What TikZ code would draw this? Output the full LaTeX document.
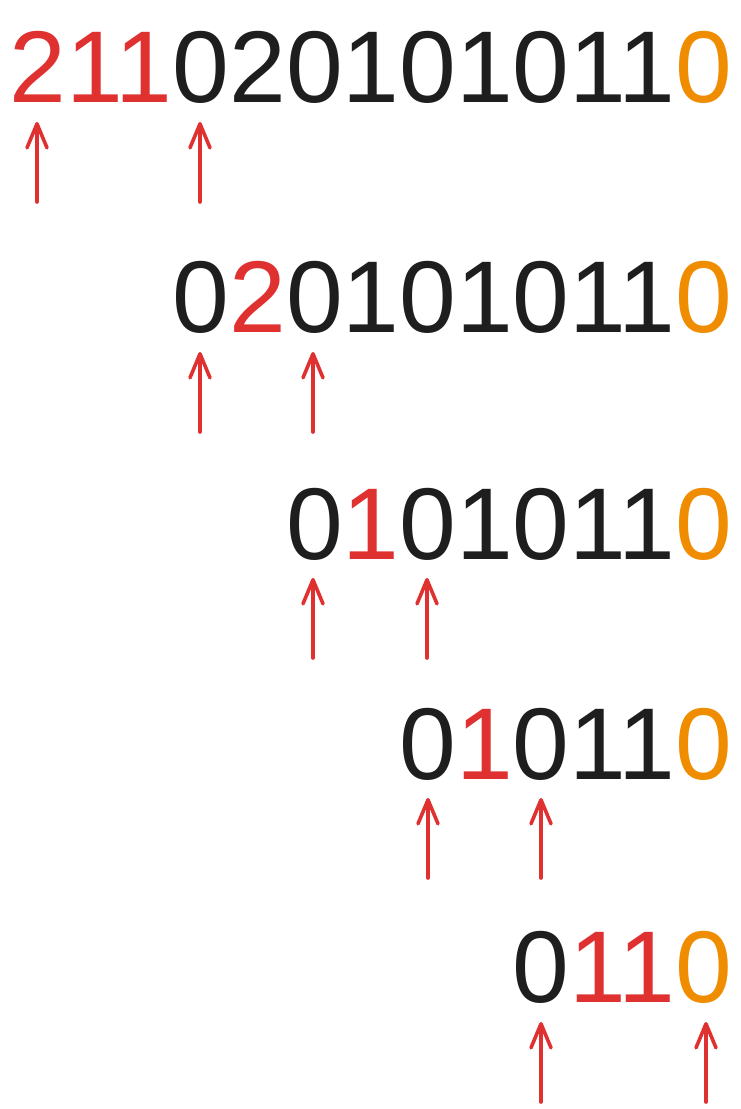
\documentclass[tikz,border=0pt]{standalone}
\usepackage{fontspec}
\setmainfont{Liberation Sans}
\usetikzlibrary{arrows.meta}
\definecolor{exred}{HTML}{E03131}
\definecolor{exorange}{HTML}{F08C00}
\definecolor{exblack}{HTML}{1E1E1E}

\begin{document}
\begin{tikzpicture}[x=1pt, y=1pt,
	digits/.style={anchor=base east, inner sep=0pt, text=exblack, font=\fontsize{102}{102}\selectfont},
	pointer/.style={draw=exred, line width=3.6pt, line cap=round, line join=round, -{Straight Barb[length=24pt, width=20pt, round]}}]
	\useasboundingbox (0,0) rectangle (741,1109);
	% Rows of digits:
	\node[digits] (row1) at (732.5, 1006) {\textcolor{exred}{211}020101011\textcolor{exorange}{0}};
	\node[digits] (row2) at (732.5, 776) {0\textcolor{exred}{2}0101011\textcolor{exorange}{0}};
	\node[digits] (row3) at (732.5, 549) {0\textcolor{exred}{1}01011\textcolor{exorange}{0}};
	\node[digits] (row4) at (732.5, 329) {0\textcolor{exred}{1}011\textcolor{exorange}{0}};
	\node[digits] (row5) at (732.5, 106) {0\textcolor{exred}{11}\textcolor{exorange}{0}};
	% Pointer ends:
	\coordinate (tail1a) at (37, 907);  \coordinate (tip1a) at (37, 987);
	\coordinate (tail1b) at (200, 907); \coordinate (tip1b) at (200, 987);
	\coordinate (tail2a) at (200, 677); \coordinate (tip2a) at (200, 757);
	\coordinate (tail2b) at (313, 677); \coordinate (tip2b) at (313, 757);
	\coordinate (tail3a) at (313, 451); \coordinate (tip3a) at (313, 531);
	\coordinate (tail3b) at (427, 451); \coordinate (tip3b) at (427, 531);
	\coordinate (tail4a) at (428, 231); \coordinate (tip4a) at (428, 311);
	\coordinate (tail4b) at (541, 231); \coordinate (tip4b) at (541, 311);
	\coordinate (tail5a) at (541, 7);   \coordinate (tip5a) at (541, 87);
	\coordinate (tail5b) at (706, 7);   \coordinate (tip5b) at (706, 87);
	% Pointers:
	\draw[pointer] (tail1a) -- (tip1a);
	\draw[pointer] (tail1b) -- (tip1b);
	\draw[pointer] (tail2a) -- (tip2a);
	\draw[pointer] (tail2b) -- (tip2b);
	\draw[pointer] (tail3a) -- (tip3a);
	\draw[pointer] (tail3b) -- (tip3b);
	\draw[pointer] (tail4a) -- (tip4a);
	\draw[pointer] (tail4b) -- (tip4b);
	\draw[pointer] (tail5a) -- (tip5a);
	\draw[pointer] (tail5b) -- (tip5b);
\end{tikzpicture}
\end{document}
